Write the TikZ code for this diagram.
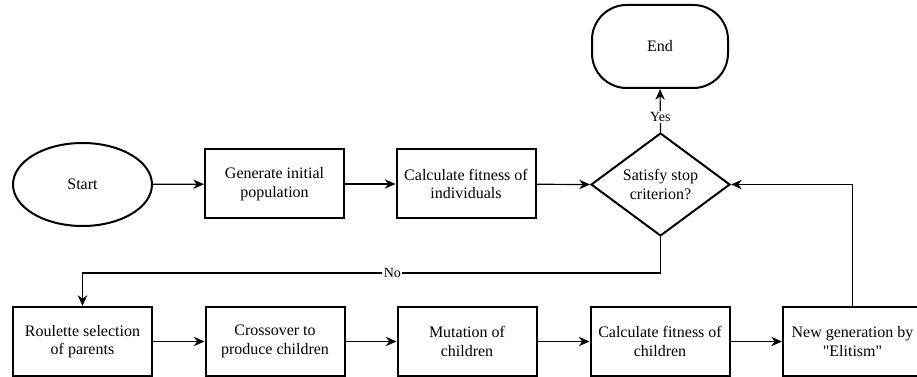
\documentclass[tikz,border=0pt]{standalone}
\usepackage{fontspec}
\setmainfont{Liberation Serif}[Ligatures=TeXOff]
\usetikzlibrary{arrows.meta,shapes.geometric}
\begin{document}
\begin{tikzpicture}[x=0.75pt,y=-0.75pt,
  every node/.style={font=\rmfamily\fontsize{12}{14}\selectfont, align=center},
  procbox/.style={draw, line width=1.5pt, rectangle, minimum width=104.25pt, minimum height=51.75pt, inner sep=1pt},
  startshape/.style={draw, line width=1.5pt, ellipse, minimum width=104.25pt, minimum height=62.25pt},
  endshape/.style={draw, line width=1.5pt, rectangle, rounded corners=26pt, minimum width=102pt, minimum height=62.25pt},
  decision/.style={draw, line width=1.5pt, diamond, shape aspect=1.35, minimum width=104.25pt, minimum height=77.25pt, inner sep=0pt},
  conn/.style={draw, line width=0.9pt, -{Stealth[length=8pt,width=7pt,inset=2.5pt]}},
  lbl/.style={fill=white, inner sep=1pt, font=\rmfamily\fontsize{10.5}{12}\selectfont}
]
\useasboundingbox (0,0) rectangle (917,377);
\clip (0,0) rectangle (917,377);

\node[startshape] (start) at (82.5,184.5) {Start};
\node[procbox] (gen) at (274.5,184) {Generate initial\\population};
\node[procbox] (calc) at (466,184) {Calculate fitness of\\individuals};
\node[decision] (dec) at (660.5,184.5) {Satisfy stop\\criterion?};
\node[endshape] (endn) at (660,46.5) {End};

\node[procbox] (roul) at (82.5,341.5) {Roulette selection\\of parents};
\node[procbox] (cross) at (275,341.5) {Crossover to\\produce children};
\node[procbox] (mut) at (467,341.5) {Mutation of\\children};
\node[procbox] (calcc) at (660,341.5) {Calculate fitness of\\children};
\node[procbox] (newg) at (852.5,341.5) {New generation by\\"Elitism"};

\coordinate (n1) at (660.5,273);
\coordinate (n2) at (82.5,273);

\draw[conn] (start) -- (gen);
\draw[conn] (gen) -- (calc);
\draw[conn] (calc) -- (dec.west);
\draw[conn] (dec.north) -- node[lbl, pos=0.36] {Yes} (endn.south);
\draw[conn] (dec.south) -- (n1) -- node[lbl, pos=0.464] {No} (n2) -- (roul.north);
\draw[conn] (roul) -- (cross);
\draw[conn] (cross) -- (mut);
\draw[conn] (mut) -- (calcc);
\draw[conn] (calcc) -- (newg);
\draw[conn] (newg.north) |- (dec.east);
\end{tikzpicture}
\end{document}
